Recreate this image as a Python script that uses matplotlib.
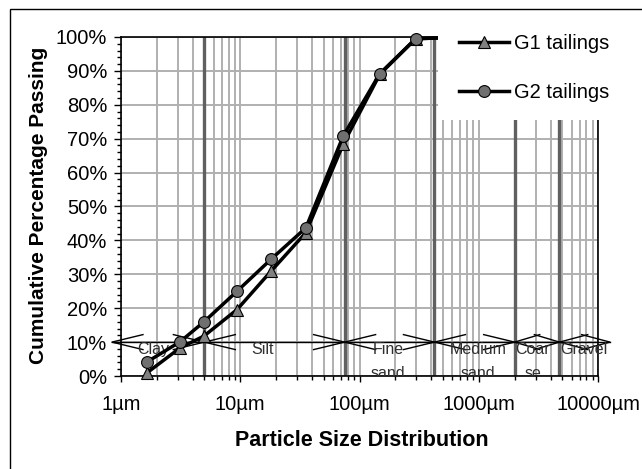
import matplotlib
matplotlib.use('Agg')
import matplotlib.pyplot as plt
import numpy as np
from matplotlib.ticker import FixedLocator, NullFormatter, MultipleLocator
from matplotlib.lines import Line2D
from matplotlib.patches import Rectangle

plt.rcParams['font.family'] = ['Liberation Sans', 'DejaVu Sans']

# ---------------- data ----------------
size_um = [1.66, 3.13, 4.97, 9.4, 18.2, 35.5, 73, 148, 296, 850]
g1_pass = [1.0, 8.3, 11.8, 19.6, 31.0, 42.3, 68.4, 89.0, 99.5, 100]
g2_pass = [4.2, 10.1, 16.0, 25.0, 34.5, 43.7, 70.8, 89.2, 99.5, 100]

class_bounds = [0.84, 5, 75, 425, 2000, 4750, 12600]
class_line1 = ['Clay', 'Silt', 'Fine', 'Medium', 'Coar', 'Gravel']
class_line2 = ['', '', 'sand', 'sand', 'se', '']
class_label_x = [1.88, 15.3, 173, 982, 2840, 7630]
class_y = 10
label_y1 = 7.7
label_y2 = 0.6

xticks = [1, 10, 100, 1000, 10000]
xtick_labels = ['1µm', '10µm', '100µm', '1000µm', '10000µm']
yticks = list(range(0, 101, 10))
ytick_labels = [f'{v}%' for v in yticks]

# ---------------- layout ----------------
W, H = 642, 469
fig = plt.figure(figsize=(W / 100, H / 100), dpi=100)
L, R, T, B = 121, 598, 37, 376
ax = fig.add_axes([L / W, 1 - B / H, (R - L) / W, (B - T) / H])
ax.set_xscale('log')
ax.set_xlim(1, 10000)
ax.set_ylim(0, 100)

grid_c = '#b0b0b0'
minor_x = [m * 10 ** d for d in range(0, 4) for m in range(2, 10)]
for xv in minor_x + xticks:
    ax.axvline(xv, color=grid_c, lw=1.4, zorder=1)
for yv in yticks:
    ax.axhline(yv, color=grid_c, lw=1.4, zorder=1)
for xv in class_bounds[1:-1]:
    ax.axvline(xv, color='#606060', lw=2.4, zorder=2)

ax.set_xticks(xticks)
ax.set_xticklabels(xtick_labels)
ax.xaxis.set_minor_locator(FixedLocator(minor_x))
ax.xaxis.set_minor_formatter(NullFormatter())
ax.set_yticks(yticks)
ax.set_yticklabels(ytick_labels)
ax.yaxis.set_minor_locator(MultipleLocator(2))
ax.tick_params(axis='both', which='major', labelsize=14.5, direction='out',
               length=4, width=1, color='black')
ax.tick_params(axis='both', which='minor', direction='out', length=3, width=1)
ax.tick_params(axis='x', which='major', pad=10)
ax.tick_params(axis='y', which='major', pad=5, length=5)
for s in ax.spines.values():
    s.set_linewidth(1.2)
    s.set_color('black')

# ---------------- classification arrows ----------------
ax.plot([class_bounds[0], class_bounds[-1]], [class_y, class_y], color='black',
        lw=1, zorder=3, clip_on=False)
to_disp = ax.transData.transform
inv = ax.transData.inverted()
for x0, x1 in zip(class_bounds[:-1], class_bounds[1:]):
    p0 = to_disp((x0, class_y))
    p1 = to_disp((x1, class_y))
    seg = p1[0] - p0[0]
    lh = min(31, 0.56 * seg)
    wh = 7.5
    for tip, sgn in ((p0, 1), (p1, -1)):
        pts = np.array([[tip[0] + sgn * lh, tip[1] + wh], [tip[0], tip[1]],
                        [tip[0] + sgn * lh, tip[1] - wh]])
        dpts = inv.transform(pts)
        ax.plot(dpts[:, 0], dpts[:, 1], color='black', lw=1, zorder=3,
                clip_on=False)

clip_rect = Rectangle((0, 1 - B / H), 1, B / H, transform=fig.transFigure)
for xl, t1, t2 in zip(class_label_x, class_line1, class_line2):
    for txt, yy in ((t1, label_y1), (t2, label_y2)):
        if not txt:
            continue
        tt = ax.text(xl, yy, txt, ha='center', va='center', fontsize=11.5,
                     color='#303030', zorder=3)
        tt.set_clip_path(clip_rect)
        tt.set_clip_on(True)

# ---------------- data lines ----------------
ax.plot(size_um, g1_pass, color='black', lw=2.5, marker='^', markersize=9,
        markerfacecolor='#808080', markeredgecolor='black', markeredgewidth=0.8,
        zorder=5, clip_on=False)
ax.plot(size_um, g2_pass, color='black', lw=2.5, marker='o', markersize=8.5,
        markerfacecolor='#707070', markeredgecolor='black', markeredgewidth=0.8,
        zorder=6, clip_on=False)

# ---------------- legend mask & legend ----------------
mask = Rectangle((438 / W, 1 - 120 / H), 1, (120 - 12) / H, transform=fig.transFigure,
                 facecolor='white', edgecolor='none', zorder=3)
fig.add_artist(mask)

h1 = Line2D([], [], color='black', lw=2.5, marker='^', markersize=9,
            markerfacecolor='#808080', markeredgecolor='black', markeredgewidth=0.8)
h2 = Line2D([], [], color='black', lw=2.5, marker='o', markersize=8.5,
            markerfacecolor='#707070', markeredgecolor='black', markeredgewidth=0.8)
leg = fig.legend([h1, h2], ['G1 tailings', 'G2 tailings'], loc='upper left',
                 bbox_to_anchor=(459 / W, 1 - 34 / H), frameon=False, fontsize=14.5,
                 handlelength=2.5, handletextpad=0.25, labelspacing=1.5,
                 borderpad=0, borderaxespad=0)
leg.set_zorder(4)

# ---------------- labels ----------------
fig.text(39 / W, 1 - 205 / H, 'Cumulative Percentage Passing', rotation=90,
         ha='center', va='center', fontsize=15, fontweight='bold')
fig.text(362 / W, 1 - 440 / H, 'Particle Size Distribution', ha='center',
         va='center', fontsize=15.5, fontweight='bold')

# outer chart border
border = Rectangle((10 / W, -0.05), 1.2, 1 - 9 / H + 0.05, transform=fig.transFigure,
                   fill=False, edgecolor='black', lw=1, zorder=10)
fig.add_artist(border)

fig.savefig('out.png', dpi=100)
